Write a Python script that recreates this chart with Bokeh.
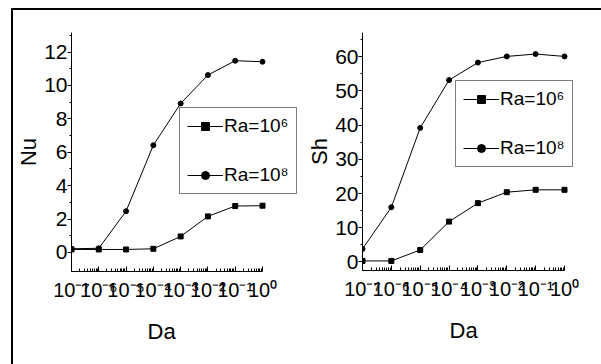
import numpy as np
from bokeh.plotting import figure
from bokeh.models import FixedTicker, Legend, LegendItem, Range1d, Title
from bokeh.layouts import row
from bokeh.embed import file_html
from bokeh.resources import INLINE

# ---- data ----
da = [1e-7, 1e-6, 1e-5, 1e-4, 1e-3, 1e-2, 1e-1, 1e0]
nu_ra6 = [0.18, 0.18, 0.18, 0.22, 0.96, 2.16, 2.78, 2.80]
nu_ra8 = [0.22, 0.25, 2.47, 6.42, 8.92, 10.62, 11.48, 11.42]
sh_ra6 = [0.3, 0.3, 3.5, 11.8, 17.2, 20.4, 21.1, 21.1]
sh_ra8 = [3.8, 16.0, 39.2, 53.2, 58.3, 60.1, 60.8, 60.1]

x_ticks = [1e-7, 1e-6, 1e-5, 1e-4, 1e-3, 1e-2, 1e-1, 1e0]
x_tick_labels = ["10⁻⁷", "10⁻⁶", "10⁻⁵", "10⁻⁴", "10⁻³", "10⁻²", "10⁻¹", "10⁰"]
nu_ticks = [0, 2, 4, 6, 8, 10, 12]
nu_minor = [1, 3, 5, 7, 9, 11, 13]
sh_ticks = [0, 10, 20, 30, 40, 50, 60]
sh_minor = [5, 15, 25, 35, 45, 55, 65]
series_labels = ["Ra=10⁶", "Ra=10⁸"]
y_titles = ["Nu", "Sh"]
x_title = "Da"

FONT = "Liberation Sans"
x_minor = [m * 10.0 ** e for e in range(-7, 0) for m in range(2, 10)]


def make_panel(y6, y8, yticks, yminor, ytitle, yrange, axis_px, fw, fh, mb,
               legend_loc, xtitle_offset):
    # the frame is wider than the axis so the legend can stick out past 10^0
    decades = 7.0 * fw / axis_px
    x_end = 10.0 ** (decades - 7.0)
    p = figure(
        x_axis_type="log",
        x_range=Range1d(1e-7, x_end),
        y_range=Range1d(*yrange),
        frame_width=fw, frame_height=fh,
        min_border_left=mb[0], min_border_right=mb[1],
        min_border_top=mb[2], min_border_bottom=mb[3],
        output_backend="svg", toolbar_location=None,
        background_fill_color="white", border_fill_color="white",
    )
    p.outline_line_color = None
    p.grid.visible = False

    xa = p.xaxis[0]
    xa.bounds = (1e-7, 1.0)
    xa.ticker = FixedTicker(ticks=x_ticks, minor_ticks=x_minor)
    xa.major_label_overrides = {t: l for t, l in zip(x_ticks, x_tick_labels)}
    xa.major_tick_in = 5
    xa.major_tick_out = 0
    xa.minor_tick_in = 3
    xa.minor_tick_out = 0
    xa.major_label_standoff = 7
    xa.major_label_text_font = FONT
    xa.major_label_text_font_size = "20px"

    # small spacer, then the x title centred under the axis span
    p.add_layout(Title(text="\u00a0", text_font_size="5px", standoff=0), "below")
    p.add_layout(Title(text=x_title, align="left", offset=xtitle_offset,
                       text_font=FONT, text_font_size="22px",
                       text_font_style="normal", text_color="black",
                       standoff=10), "below")

    ya = p.yaxis[0]
    ya.ticker = FixedTicker(ticks=yticks, minor_ticks=yminor)
    ya.major_tick_in = 0
    ya.major_tick_out = 4
    ya.minor_tick_in = 0
    ya.minor_tick_out = 2
    ya.major_label_standoff = 0
    ya.major_label_text_font = FONT
    ya.major_label_text_font_size = "21px"
    ya.axis_label = ytitle
    ya.axis_label_text_font = FONT
    ya.axis_label_text_font_size = "22px"
    ya.axis_label_text_font_style = "normal"
    ya.axis_label_standoff = 0

    for ax in (xa, ya):
        ax.axis_line_color = "black"
        ax.major_tick_line_color = "black"
        ax.minor_tick_line_color = "black"
        ax.major_label_text_color = "black"
        ax.axis_label_text_color = "black"

    l6 = p.line(da, y6, line_color="black", line_width=1)
    m6 = p.scatter(da, y6, marker="square", size=5, color="black")
    l8 = p.line(da, y8, line_color="black", line_width=1)
    m8 = p.scatter(da, y8, marker="circle", size=5, color="black")

    leg = Legend(
        items=[LegendItem(label=series_labels[0], renderers=[l6, m6]),
               LegendItem(label=series_labels[1], renderers=[l8, m8])],
        location=legend_loc,
        label_text_font=FONT, label_text_font_size="19px",
        label_text_color="black",
        glyph_width=36, glyph_height=20, label_standoff=1,
        padding=7, spacing=27, margin=0,
        border_line_color="black", border_line_width=1,
        background_fill_color="white", background_fill_alpha=1.0,
    )
    p.add_layout(leg, "center")
    return p


p1 = make_panel(nu_ra6, nu_ra8, nu_ticks, nu_minor, y_titles[0], (-1.14, 13.17),
                191, 230, 239, (57, 1, 22, 93), (108, 77), 76)
p2 = make_panel(sh_ra6, sh_ra8, sh_ticks, sh_minor, y_titles[1], (-2.5, 67.1),
                202, 232, 238, (60, 8, 22, 94), (93, 103), 87)

layout = row(p1, p2, styles={"border-left": "2px solid black",
                             "border-top": "2px solid black",
                             "margin-left": "11px", "margin-top": "8px"})

open("out.html", "w").write(file_html(layout, INLINE))
